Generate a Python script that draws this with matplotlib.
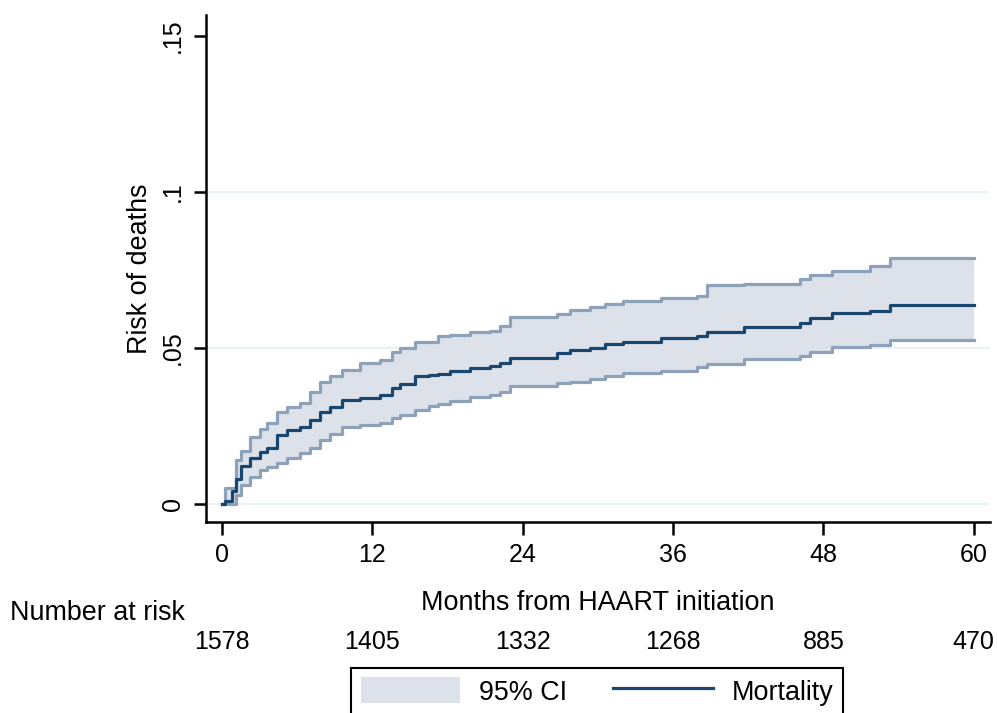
import numpy as np
import matplotlib
matplotlib.use("Agg")
import matplotlib.pyplot as plt
from matplotlib.patches import Patch
from matplotlib.lines import Line2D
import matplotlib.transforms as mtransforms

plt.rcParams['font.family'] = ['Liberation Sans', 'DejaVu Sans']

# Zeitpunkte der Stufen (Monate) und Werte
months = [0.0, 0.2, 0.8, 1.1, 1.5, 2.2, 3.0, 3.6, 4.4, 5.2, 6.2, 7.0, 7.8, 8.6,
          9.6, 11.0, 12.6, 13.6, 14.2, 15.4, 16.5, 17.2, 18.2, 19.8, 21.4, 22.2,
          23.0, 26.7, 27.8, 29.4, 30.6, 32.0, 35.0, 37.9, 38.7, 41.7, 46.1, 46.9,
          48.7, 51.7, 53.3, 60.0]
mortality = [0.000, 0.001, 0.004, 0.008, 0.012, 0.0147, 0.0167, 0.018, 0.022,
             0.0237, 0.0247, 0.027, 0.0295, 0.031, 0.0333, 0.034, 0.035, 0.037,
             0.0385, 0.041, 0.0413, 0.0417, 0.0426, 0.0436, 0.0442, 0.045, 0.0467,
             0.0484, 0.0494, 0.050, 0.0512, 0.052, 0.0532, 0.0538, 0.0551, 0.0567,
             0.058, 0.0596, 0.0612, 0.0619, 0.0638, 0.0638]
ci_upper = [0.000, 0.005, 0.005, 0.014, 0.017, 0.0215, 0.024, 0.026, 0.0295,
            0.031, 0.0323, 0.036, 0.039, 0.041, 0.043, 0.045, 0.046, 0.0487,
            0.050, 0.052, 0.052, 0.0538, 0.054, 0.055, 0.0555, 0.057, 0.060,
            0.061, 0.062, 0.063, 0.064, 0.065, 0.066, 0.0667, 0.070, 0.0705,
            0.072, 0.0734, 0.0747, 0.0763, 0.0788, 0.0788]
ci_lower = [0.000, 0.000, 0.000, 0.003, 0.006, 0.0087, 0.011, 0.0119, 0.013,
            0.0147, 0.0163, 0.018, 0.0205, 0.0225, 0.0245, 0.0253, 0.026, 0.0275,
            0.0285, 0.030, 0.0314, 0.032, 0.033, 0.0343, 0.035, 0.036, 0.0378,
            0.0388, 0.039, 0.040, 0.041, 0.042, 0.0426, 0.0439, 0.0449, 0.0465,
            0.0474, 0.0487, 0.0503, 0.051, 0.0526, 0.0526]

# Anzahl unter Risiko
risk_months = [0, 12, 24, 36, 48, 60]
at_risk = [1578, 1405, 1332, 1268, 885, 470]

y_ticks = [0, 0.05, 0.1, 0.15]
y_labels = ['0', '.05', '.1', '.15']

navy = '#1a476f'
band = '#dde2ea'
band_edge = '#8da2b8'
grid_col = '#eaf2f3'

fig = plt.figure(figsize=(9.97, 7.13), dpi=100)
ax = fig.add_axes([0.2066, 0.2679, 0.7864, 0.7111])

# Gitterlinien
for yv in y_ticks[:-1]:
    ax.axhline(yv, color=grid_col, lw=1.6, zorder=0)

ax.fill_between(months, ci_lower, ci_upper, step='post', color=band, lw=0, zorder=1)
ax.step(months, ci_upper, where='post', color=band_edge, lw=2.3, zorder=2)
ax.step(months, ci_lower, where='post', color=band_edge, lw=2.3, zorder=2)
ax.step(months, mortality, where='post', color=navy, lw=2.3, zorder=3)

ax.set_xlim(-1.28, 61.3)
ax.set_ylim(-0.0058, 0.1567)
ax.set_xticks(risk_months)
ax.set_xticklabels([str(m) for m in risk_months])
ax.set_yticks(y_ticks)
ax.set_yticklabels(y_labels, rotation=90, va='center')

for s in ['top', 'right']:
    ax.spines[s].set_visible(False)
for s in ['left', 'bottom']:
    ax.spines[s].set_linewidth(1.8)
ax.tick_params(axis='both', length=9, width=1.8, labelsize=18, pad=6)

ax.set_xlabel('Months from HAART initiation', fontsize=19.4, labelpad=17)
ax.set_ylabel('Risk of deaths', fontsize=19.4, labelpad=6)

# Tabelle "Number at risk"
trans = mtransforms.blended_transform_factory(ax.transData, fig.transFigure)
fig.text(10 / 997, 1 - 613 / 713, 'Number at risk', fontsize=19.4,
         ha='left', va='center')
for m, n in zip(risk_months, at_risk):
    ax.text(m, 1 - 642 / 713, str(n), transform=trans, fontsize=18,
            ha='center', va='center', clip_on=False)

# Legende
handles = [Patch(facecolor=band, edgecolor='none'),
           Line2D([0], [0], color=navy, lw=2.3)]
leg = fig.legend(handles, ['95% CI', 'Mortality'], loc='upper center',
                 bbox_to_anchor=(597 / 997, 1 - 668 / 713), ncol=2,
                 fontsize=19.4, frameon=True, fancybox=False, framealpha=1,
                 handlelength=3.7, handleheight=1.1, columnspacing=1.7,
                 handletextpad=0.7, borderpad=0.35, borderaxespad=0)
leg.get_frame().set_edgecolor('black')
leg.get_frame().set_linewidth(1.5)

fig.savefig('out.png', dpi=100)
